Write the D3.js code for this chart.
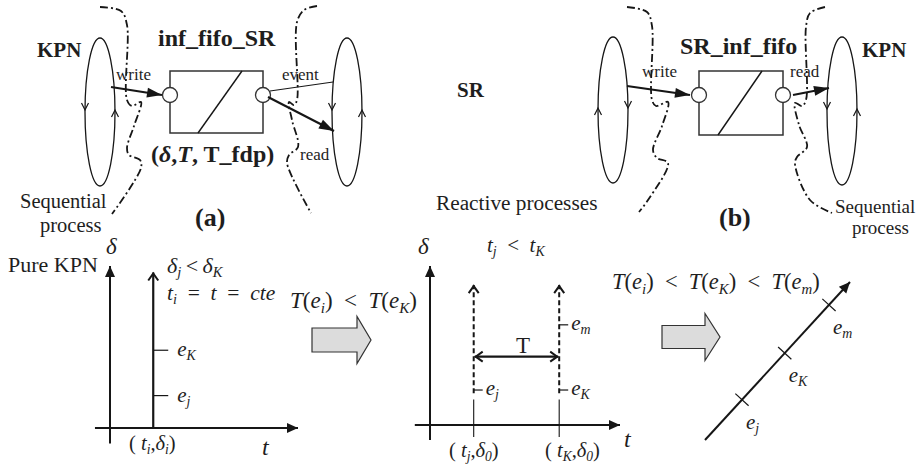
<!DOCTYPE html>
<html><head><meta charset="utf-8">
<script src="https://cdn.jsdelivr.net/npm/d3@7"></script>
<style>
body{margin:0;background:#fff}
svg{display:block}
svg text{font-family:"Liberation Serif","DejaVu Serif",serif;fill:#1e1e1e;white-space:pre}
</style>
</head><body>
<svg id="c" width="917" height="471"></svg>
<script>
// ---------- data ----------
const panelTitles = ["inf_fifo_SR", "SR_inf_fifo"];
const panelLabels = ["(a)", "(b)"];
const domainLabels = ["KPN", "SR", "KPN"];
const processLabels = ["Sequential", "process", "Reactive processes"];
const portLabelsA = ["write", "event", "read"];
const portLabelsB = ["write", "read"];
// Pure KPN graph: events on a constant-time line (delta levels, 0..10)
const pureKpnTime = 2.3;
const pureKpnEvents = [{name: "j", delta: 2.0}, {name: "K", delta: 4.8}];
// Reactive graph: time stamps (0..10) and delta levels (0..10)
const reactiveTimes = [{name: "j", t: 2.3}, {name: "K", t: 6.8}];
const reactiveEvents = [{name: "j", t: 2.3, delta: 2.2}, {name: "K", t: 6.8, delta: 2.2}, {name: "m", t: 6.8, delta: 6.3}];
const periodLevel = 4.3;
// Total order graph: position along the timeline (0..10)
const orderedEvents = [{name: "j", T: 2.55}, {name: "K", T: 5.5}, {name: "m", T: 8.55}];

// ---------- setup ----------
const ink = "#161616";
const FONT = "'Liberation Serif', 'DejaVu Serif', serif";
const EN = "\u2002", TH = "\u2009";
const svg = d3.select("#c");
const defs = svg.append("defs");
function mk(id, len, wid, open) {
  const m = defs.append("marker").attr("id", id).attr("viewBox", `0 0 ${len} ${wid}`)
    .attr("refX", len).attr("refY", wid / 2).attr("markerUnits", "userSpaceOnUse")
    .attr("markerWidth", len).attr("markerHeight", wid).attr("orient", "auto-start-reverse")
    .attr("overflow", "visible");
  if (open) m.append("path").attr("d", `M1,1L${len - 1},${wid / 2}L1,${wid - 1}`).attr("fill", "none").attr("stroke", ink).attr("stroke-width", 2);
  else m.append("path").attr("d", `M0,0L${len},${wid / 2}L0,${wid}Z`).attr("fill", ink);
}
mk("tri", 11, 10, false);
mk("triBig", 15, 10, false);
mk("chev", 9, 12, true);

function rich(x, y, parts, size, weight) {
  const t = svg.append("text").attr("x", x).attr("y", y).attr("font-size", size)
    .attr("font-family", FONT).attr("font-weight", weight || "normal");
  let shifted = false;
  parts.forEach(p => {
    const str = p[0], st = p[1] || "";
    const ts = t.append("tspan").text(str);
    if (st.includes("i")) ts.attr("font-style", "italic");
    if (st.includes("s")) {
      ts.attr("font-size", size * 0.66);
      if (!shifted) { ts.attr("dy", size * 0.2); shifted = true; }
    } else if (shifted) { ts.attr("dy", -size * 0.2); shifted = false; }
  });
  return t;
}
function line(x1, y1, x2, y2, w, opts) {
  opts = opts || {};
  const l = svg.append("line").attr("x1", x1).attr("y1", y1).attr("x2", x2).attr("y2", y2)
    .attr("stroke", opts.color || ink).attr("stroke-width", w);
  if (opts.end) l.attr("marker-end", `url(#${opts.end})`);
  if (opts.start) l.attr("marker-start", `url(#${opts.start})`);
  if (opts.dash) l.attr("stroke-dasharray", opts.dash);
  return l;
}
const curve = d3.line().curve(d3.curveCatmullRom.alpha(0.5));
function dashDot(pts) {
  svg.append("path").attr("d", curve(pts)).attr("fill", "none").attr("stroke", ink)
    .attr("stroke-width", 1.8).attr("stroke-dasharray", "8,3,2,3");
}
function loop(cx, cy, rx, ry, leftDown) {
  svg.append("ellipse").attr("cx", cx).attr("cy", cy).attr("rx", rx).attr("ry", ry)
    .attr("fill", "none").attr("stroke", ink).attr("stroke-width", 1.3);
  const chev = (x, dir) => svg.append("path")
    .attr("d", `M${x - 3.5},${cy - 2 - 7 * dir}L${x},${cy - 2}L${x + 3.5},${cy - 2 - 7 * dir}`)
    .attr("fill", "none").attr("stroke", ink).attr("stroke-width", 1.2);
  chev(cx - rx, leftDown ? 1 : -1);
  chev(cx + rx, leftDown ? -1 : 1);
}
function fifo(x, y, w, h, slantA, slantB) {
  svg.append("rect").attr("x", x).attr("y", y).attr("width", w).attr("height", h)
    .attr("fill", "#fff").attr("stroke", "#333").attr("stroke-width", 1.5);
  line(x + slantA, y + h, x + slantB, y, 1.4);
  [x, x + w].forEach(cx => svg.append("circle").attr("cx", cx).attr("cy", y + 24).attr("r", 7.5)
    .attr("fill", "#fff").attr("stroke", "#333").attr("stroke-width", 1.3));
}
function blockArrow(x0, y, bodyLen, bodyH, headLen, headH) {
  const pts = [[x0, y - bodyH / 2], [x0 + bodyLen, y - bodyH / 2], [x0 + bodyLen, y - headH / 2],
    [x0 + bodyLen + headLen, y], [x0 + bodyLen, y + headH / 2], [x0 + bodyLen, y + bodyH / 2], [x0, y + bodyH / 2]];
  svg.append("path").attr("d", d3.line()(pts) + "Z").attr("fill", "#dcdcdc").attr("stroke", "#333").attr("stroke-width", 1.2);
}

// ---------- panel (a) ----------
rich(37, 57, [[domainLabels[0]]], 21, "bold");
rich(158, 46, [[panelTitles[0]]], 24, "bold");
loop(100, 112, 15, 74, true);
loop(347, 112, 15, 74, true);
dashDot([[100, 7], [121, 11], [127, 25], [127, 100], [132, 106], [141, 102], [134, 126], [127, 148], [129, 155], [140, 160], [141, 168], [112, 214]]);
dashDot([[317, 6], [304, 10], [297, 22], [297, 100], [294, 105], [289, 102], [292, 120], [298, 147], [289, 155], [287, 163], [311, 213]]);
fifo(170, 71, 93, 62, 28, 72);
line(111, 87, 162, 95, 2.2, {end: "triBig"});
line(270, 91, 333, 82, 1.2);
line(268, 97, 334, 131, 2.2, {end: "triBig"});
rich(116, 80, [[portLabelsA[0]]], 17);
rich(282, 80, [[portLabelsA[1]]], 17);
rich(300, 160, [[portLabelsA[2]]], 17);
rich(151, 162, [["("], ["δ", "i"], [","], ["T", "i"], [", T_fdp)"]], 24, "bold");
rich(20, 208, [[processLabels[0]]], 20.5);
rich(40, 232, [[processLabels[1]]], 20.5);
rich(195, 226, [[panelLabels[0]]], 26, "bold");

// ---------- middle labels ----------
rich(457, 97, [[domainLabels[1]]], 21, "bold");
rich(436, 210, [[processLabels[2]]], 21.3);

// ---------- panel (b) ----------
rich(680, 54, [[panelTitles[1]]], 24, "bold");
rich(862, 57, [[domainLabels[2]]], 21, "bold");
loop(613, 110, 15, 73, false);
loop(842, 111, 15, 74, true);
dashDot([[627, 7], [647, 12], [652, 26], [652, 100], [656, 106], [668, 102], [662, 126], [653, 150], [657, 158], [668, 163], [648, 200], [639, 212]]);
dashDot([[825, 7], [810, 13], [806, 27], [806, 100], [802, 106], [795, 103], [799, 125], [807, 147], [797, 157], [795, 164], [810, 200], [832, 213]]);
fifo(699, 71, 84, 64, 19, 63);
line(627, 86, 690, 95, 2.2, {end: "triBig"});
line(793, 95, 829, 88, 2.2, {end: "triBig"});
rich(642, 77, [[portLabelsB[0]]], 17);
rich(790, 77, [[portLabelsB[1]]], 17);
rich(835, 213, [[processLabels[0]]], 19);
rich(852, 234, [[processLabels[1]]], 19);
rich(719, 226, [[panelLabels[1]]], 26, "bold");

// ---------- graph 1: pure KPN ----------
const g1x = d3.scaleLinear().domain([0, 10]).range([110, 298]);
const g1y = d3.scaleLinear().domain([0, 10]).range([428, 266]);
line(g1x(0), g1y(-0.95), g1x(0), g1y(10), 2, {end: "tri"});
line(g1x(-0.8), g1y(0), g1x(10), g1y(0), 2, {end: "tri"});
line(g1x(pureKpnTime), g1y(0), g1x(pureKpnTime), g1y(9.6), 2.2, {end: "chev"});
pureKpnEvents.forEach(e => {
  line(g1x(pureKpnTime), g1y(e.delta), g1x(pureKpnTime) + 15, g1y(e.delta), 1.2);
  rich(g1x(pureKpnTime) + 24, g1y(e.delta) + 6, [["e", "i"], [e.name, "is"]], 21);
});
rich(106, 254, [["δ", "i"]], 23);
rich(8, 272, [["Pure KPN"]], 22);
rich(167, 273, [["δ", "i"], ["j", "is"], [TH + "<" + TH], ["δ", "i"], ["K", "is"]], 22);
rich(167, 300, [["t", "i"], ["i", "is"], [EN + "=" + EN], ["t", "i"], [EN + "=" + EN], ["cte", "i"]], 21.5);
rich(129, 450, [["( "], ["t", "i"], ["i", "is"], [","], ["δ", "i"], ["i", "is"], [")"]], 20.5);
rich(262, 455, [["t", "i"]], 24);

// arrow 1
rich(290, 308, [["T", "i"], ["("], ["e", "i"], ["i", "is"], [")" + EN + "<" + EN], ["T", "i"], ["("], ["e", "i"], ["K", "is"], [")"]], 23);
blockArrow(312, 340, 45, 24, 14, 47);

// ---------- graph 2: reactive ----------
const g2x = d3.scaleLinear().domain([0, 10]).range([430, 620]);
const g2y = d3.scaleLinear().domain([0, 10]).range([425, 266]);
line(g2x(0), g2y(-0.95), g2x(0), g2y(10), 2, {end: "tri"});
line(g2x(-0.8), g2y(0), g2x(10), g2y(0), 2, {end: "tri"});
reactiveTimes.forEach(d => {
  line(g2x(d.t), g2y(2.0), g2x(d.t), g2y(8.8), 2, {end: "chev", dash: "5,3"});
  line(g2x(d.t), g2y(1.6), g2x(d.t), g2y(-0.75), 1.1);
});
reactiveEvents.forEach(e => {
  line(g2x(e.t), g2y(e.delta), g2x(e.t) + 9, g2y(e.delta), 1.2);
  rich(g2x(e.t) + 12, g2y(e.delta) + 5, [["e", "i"], [e.name, "is"]], 21);
});
line(g2x(reactiveTimes[0].t) + 1, g2y(periodLevel), g2x(reactiveTimes[1].t) - 1, g2y(periodLevel), 2.4, {start: "chev", end: "chev"});
rich(516, 353, [["T"]], 23);
rich(418, 254, [["δ", "i"]], 23);
rich(487, 252, [["t", "i"], ["j", "is"], [EN + "<" + EN], ["t", "i"], ["K", "is"]], 21);
rich(449, 457, [["( "], ["t", "i"], ["j", "is"], [","], ["δ", "i"], ["0", "is"], [")"]], 20.5);
rich(545, 457, [["( "], ["t", "i"], ["K", "is"], [","], ["δ", "i"], ["0", "is"], [")"]], 20.5);
rich(624, 447, [["t", "i"]], 24);

// arrow 2
rich(612, 289, [["T", "i"], ["("], ["e", "i"], ["i", "is"], [")" + EN + "<" + EN], ["T", "i"], ["("], ["e", "i"], ["K", "is"], [")" + EN + "<" + EN], ["T", "i"], ["("], ["e", "i"], ["m", "is"], [")"]], 22.5);
blockArrow(662, 337, 43, 23, 15, 47);

// ---------- graph 3: total order ----------
const g3x = d3.scaleLinear().domain([0, 10]).range([705, 850]);
const g3y = d3.scaleLinear().domain([0, 10]).range([440, 282]);
line(g3x(0), g3y(0), g3x(10), g3y(10), 2, {end: "tri"});
const dx = g3x(10) - g3x(0), dy = g3y(10) - g3y(0), L = Math.hypot(dx, dy);
const px = -dy / L, py = dx / L;
orderedEvents.forEach(e => {
  const cx = g3x(e.T), cy = g3y(e.T);
  line(cx - px * 9, cy - py * 9, cx + px * 9, cy + py * 9, 1.2);
  rich(cx + 4, cy + 29, [["e", "i"], [e.name, "is"]], 21);
});
</script>
</body></html>
